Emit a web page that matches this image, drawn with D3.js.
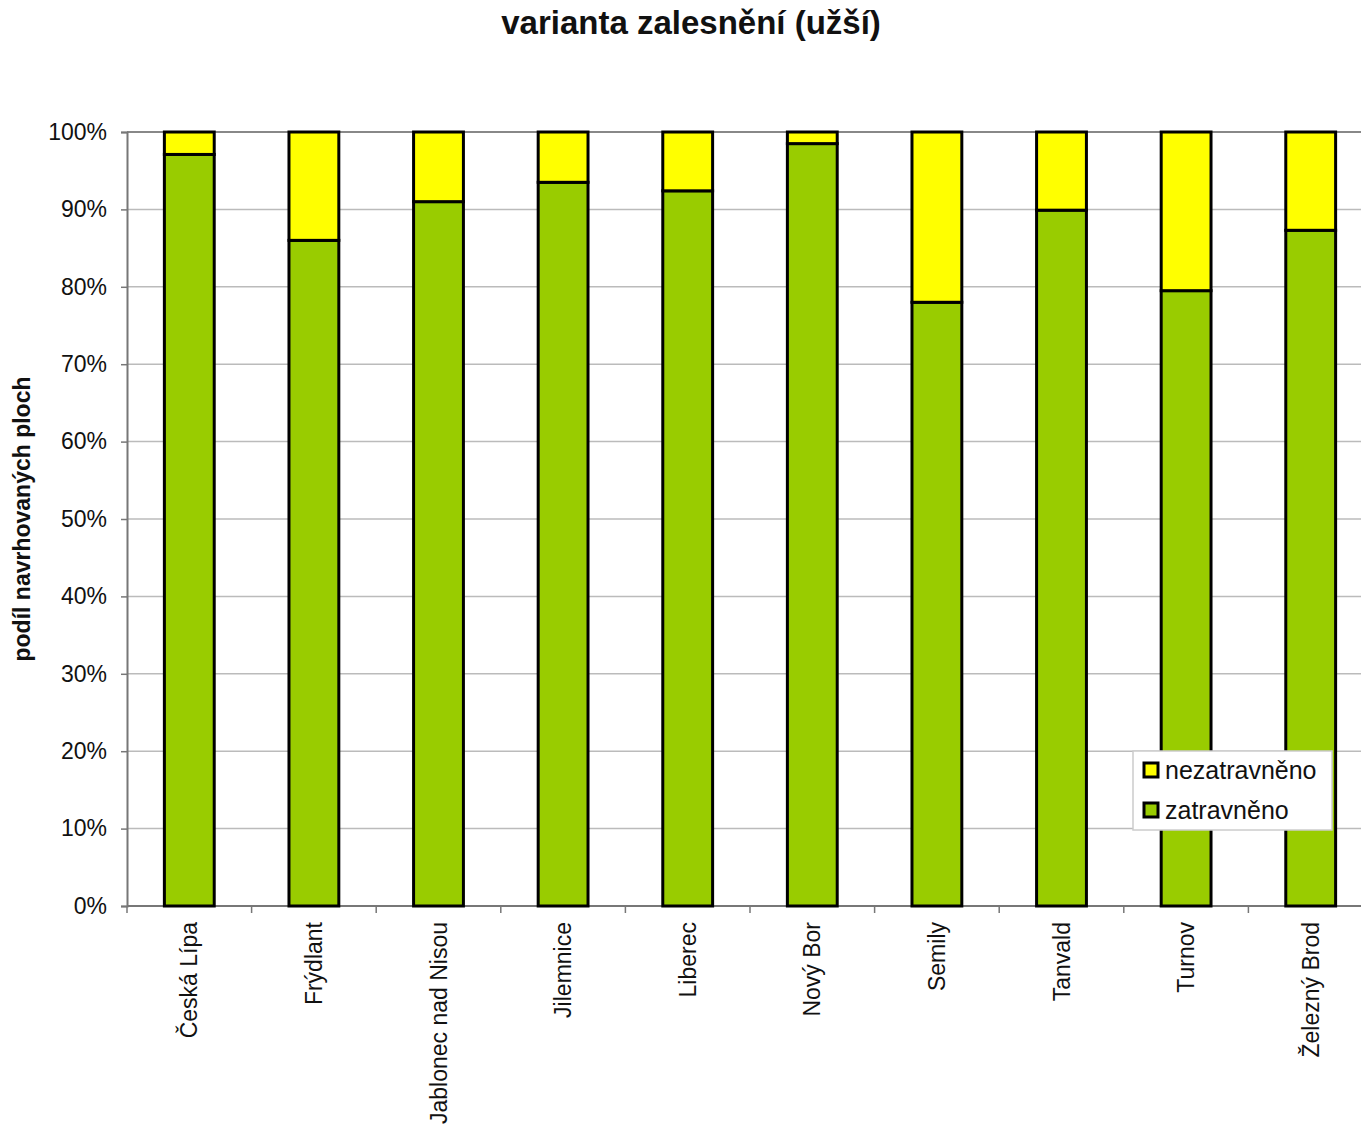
<!DOCTYPE html>
<html><head><meta charset="utf-8">
<script src="https://cdn.jsdelivr.net/npm/d3@7"></script>
<style>body{margin:0;background:#fff}svg{display:block}</style>
</head><body>
<script>
const categories = ["Česká Lípa","Frýdlant","Jablonec nad Nisou","Jilemnice","Liberec","Nový Bor","Semily","Tanvald","Turnov","Železný Brod"];
const zatravneno = [0.971, 0.860, 0.910, 0.935, 0.924, 0.985, 0.780, 0.899, 0.795, 0.873];
const nezatravneno = zatravneno.map(v => 1 - v);
const seriesNames = ["nezatravněno","zatravněno"];
const yTicks = [0,0.1,0.2,0.3,0.4,0.5,0.6,0.7,0.8,0.9,1.0];
const title = "varianta zalesnění (užší)";
const yLabel = "podíl navrhovaných ploch";

const W = 1361, H = 1126;
const m = {left:127, top:132, bottom:906, right:1373};
const svg = d3.select("body").append("svg").attr("width",W).attr("height",H)
  .style("font-family","'Liberation Sans', Arial, sans-serif");

const x = d3.scaleBand().domain(categories).range([m.left, m.right]).paddingInner(0.6).paddingOuter(0.3);
const xTickScale = d3.scaleLinear().domain([0, categories.length]).range([m.left, m.right]);
const y = d3.scaleLinear().domain([0,1]).range([m.bottom, m.top]);

// gridlines
svg.append("g").selectAll("line").data(yTicks.slice(1)).join("line")
  .attr("x1", m.left).attr("x2", W).attr("y1", d=>y(d)).attr("y2", d=>y(d))
  .attr("stroke", d => d===1 ? "#888" : "#bbb").attr("stroke-width", d => d===1 ? 2 : 1.5);

// y axis
const yAxis = svg.append("g").attr("transform",`translate(${m.left},0)`)
  .call(d3.axisLeft(y).tickValues(yTicks).tickFormat(d3.format(".0%")).tickSize(6).tickPadding(14));
yAxis.select(".domain").attr("stroke","#777").attr("stroke-width",2);
yAxis.selectAll(".tick line").attr("stroke","#777").attr("stroke-width",1.5);
yAxis.selectAll(".tick text").attr("font-size",23).attr("fill","#111").attr("font-family","'Liberation Sans', Arial, sans-serif");

// x axis line + ticks between categories
svg.append("line").attr("x1",m.left).attr("x2",W).attr("y1",m.bottom).attr("y2",m.bottom).attr("stroke","#777").attr("stroke-width",2);
svg.append("g").selectAll("line").data(d3.range(0, categories.length+1)).join("line")
  .attr("x1", d=>xTickScale(d)).attr("x2", d=>xTickScale(d)).attr("y1", m.bottom).attr("y2", m.bottom+7)
  .attr("stroke","#777").attr("stroke-width",1.5);

// bars
const bw = x.bandwidth();
const g = svg.append("g");
categories.forEach((c,i) => {
  g.append("rect").attr("x", x(c)).attr("width", bw)
    .attr("y", y(zatravneno[i])).attr("height", y(0)-y(zatravneno[i]))
    .attr("fill","#99CC00").attr("stroke","#000").attr("stroke-width",3);
  g.append("rect").attr("x", x(c)).attr("width", bw)
    .attr("y", y(1)).attr("height", y(zatravneno[i]) - y(1))
    .attr("fill","#FFFF00").attr("stroke","#000").attr("stroke-width",3);
});

// x labels
svg.append("g").selectAll("text").data(categories).join("text")
  .attr("transform", d => `translate(${x(d)+bw/2+8},922) rotate(-90)`)
  .attr("text-anchor","end").attr("font-size",23).attr("fill","#111").text(d=>d);

// title
svg.append("text").attr("x",691).attr("y",34).attr("text-anchor","middle")
  .attr("font-size",33).attr("font-weight","bold").attr("fill","#111").text(title);

// y label
svg.append("text").attr("transform","translate(30,519) rotate(-90)").attr("text-anchor","middle")
  .attr("font-size",23).attr("font-weight","bold").attr("fill","#111").text(yLabel);

// legend
const lg = svg.append("g").attr("transform","translate(1133,751)");
lg.append("rect").attr("width",199).attr("height",79).attr("fill","#fff").attr("stroke","#ccc").attr("stroke-width",1.5);
const lc = ["#FFFF00","#99CC00"];
seriesNames.forEach((n,i) => {
  lg.append("rect").attr("x",11).attr("y",12+i*40).attr("width",14).attr("height",14)
    .attr("fill",lc[i]).attr("stroke","#000").attr("stroke-width",3);
  lg.append("text").attr("x",32).attr("y",28+i*40).attr("font-size",25).attr("fill","#111").text(n);
});
</script>
</body></html>
